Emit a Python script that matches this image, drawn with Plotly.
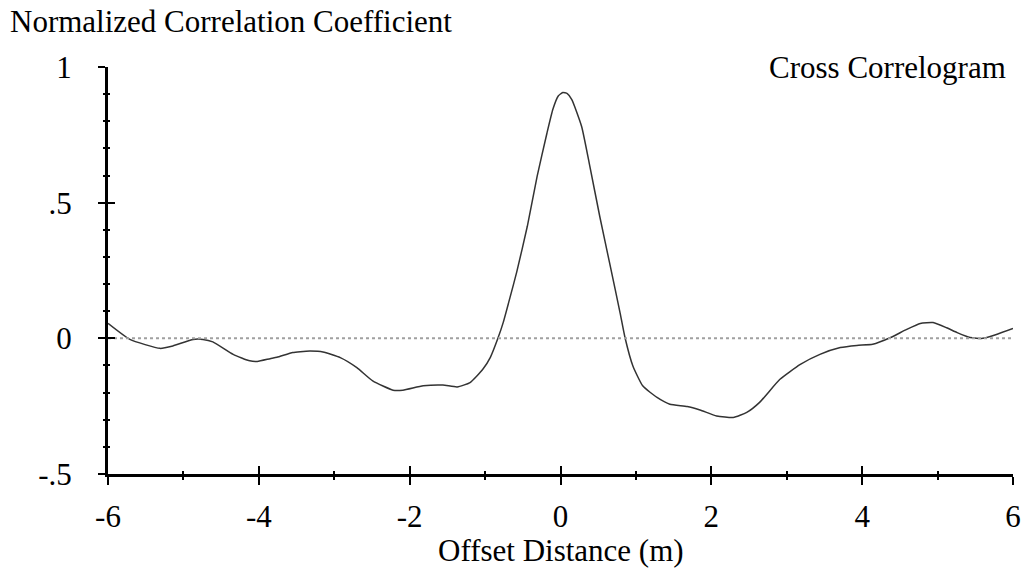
import plotly.graph_objects as go

offset_m = [-6.00, -5.71, -5.31, -5.14, -4.87, -4.74, -4.61, -4.34, -4.12, -4.02, -3.85, -3.76,
            -3.55, -3.45, -3.32, -3.15, -2.92, -2.70, -2.49, -2.22, -2.09, -1.82, -1.56, -1.37,
            -1.20, -1.03, -0.93, -0.83, -0.76, -0.67, -0.58, -0.44, -0.31, -0.18, -0.10, -0.03, 0.03,
            0.09, 0.15, 0.28, 0.39, 0.52, 0.66, 0.79, 0.855, 0.96, 1.09, 1.28, 1.45, 1.68, 1.85,
            2.07, 2.29, 2.47, 2.64, 2.91, 3.18, 3.44, 3.71, 3.93, 4.14, 4.37, 4.59, 4.77, 4.94,
            5.12, 5.26, 5.43, 5.60, 5.79, 6.00]
corr = [0.055, -0.004, -0.037, -0.028, -0.004, -0.004, -0.013, -0.059, -0.083, -0.085, -0.075, -0.070,
        -0.052, -0.049, -0.047, -0.050, -0.071, -0.108, -0.157, -0.191, -0.191, -0.175, -0.172, -0.179,
        -0.163, -0.114, -0.070, 0.000, 0.058, 0.150, 0.245, 0.413, 0.597, 0.756, 0.845, 0.893, 0.906,
        0.902, 0.880, 0.781, 0.633, 0.450, 0.266, 0.094, 0.003, -0.102, -0.175, -0.218, -0.243, -0.251, -0.264,
        -0.286, -0.292, -0.273, -0.236, -0.151, -0.096, -0.059, -0.034, -0.026, -0.022, 0.002, 0.033, 0.055, 0.058,
        0.039, 0.021, 0.003, 0.000, 0.015, 0.036]

zero_x = [-6, 6]
zero_y = [0, 0]

x_ticks = [-6, -4, -2, 0, 2, 4, 6]
x_labels = ["-6", "-4", "-2", "0", "2", "4", "6"]
y_ticks = [-0.5, 0, 0.5, 1]
y_labels = ["-.5", "0", ".5", "1"]

FONT = "Liberation Serif, Times New Roman, serif"
FS = 31

fig = go.Figure()
fig.add_trace(go.Scatter(x=zero_x, y=zero_y, mode="lines",
                         line=dict(color="#a0a0a0", width=2, dash="dot"),
                         xaxis="x2", yaxis="y2", hoverinfo="skip"))
fig.add_trace(go.Scatter(x=offset_m, y=corr, mode="lines",
                         line=dict(color="#333333", width=1.5, shape="spline", smoothing=0.5)))

common_x = dict(range=[-6, 6], tickmode="array", tickvals=x_ticks, showgrid=False, zeroline=False,
                automargin=False)
common_y = dict(range=[-0.5, 1], tickmode="array", tickvals=y_ticks, showgrid=False, zeroline=False,
                automargin=False)

fig.update_layout(
    width=1021, height=569,
    margin=dict(l=108, r=8, t=67, b=95),
    paper_bgcolor="white", plot_bgcolor="white",
    showlegend=False,
    font=dict(family=FONT, size=FS, color="black"),
    xaxis=dict(**common_x, ticktext=x_labels, ticks="outside", ticklen=8, tickwidth=2,
               tickcolor="black", showline=True, linecolor="black", linewidth=3,
               ticklabelstandoff=5,
               tickfont=dict(family=FONT, size=FS, color="black"),
               minor=dict(dtick=1, tick0=-5, ticks="outside", ticklen=3, tickwidth=2, tickcolor="black")),
    yaxis=dict(**common_y, ticktext=y_labels, ticks="outside", ticklen=7, tickwidth=2,
               tickcolor="black", showline=True, linecolor="black", linewidth=3,
               ticklabelstandoff=20,
               tickfont=dict(family=FONT, size=FS, color="black"),
               minor=dict(dtick=0.1, tick0=0, ticks="outside", ticklen=2, tickwidth=2, tickcolor="black")),
    xaxis2=dict(**common_x, overlaying="x", matches="x", showticklabels=False, ticks="inside",
                ticklen=8, tickwidth=2, tickcolor="black", showline=False, anchor="y2",
                minor=dict(dtick=1, tick0=-5, ticks="inside", ticklen=3, tickwidth=2, tickcolor="black")),
    yaxis2=dict(**common_y, overlaying="y", matches="y", showticklabels=False, ticks="inside",
                ticklen=7, tickwidth=2, tickcolor="black", showline=False, anchor="x2",
                minor=dict(dtick=0.1, tick0=0, ticks="inside", ticklen=2, tickwidth=2, tickcolor="black")),
    annotations=[
        dict(text="Normalized Correlation Coefficient", xref="paper", yref="paper",
             x=-100/905, y=1 + 45/407, xanchor="left", yanchor="middle", showarrow=False,
             font=dict(family=FONT, size=FS, color="black")),
        dict(text="Cross Correlogram", xref="paper", yref="paper",
             x=1 - 5/905, y=1, xanchor="right", yanchor="middle", showarrow=False,
             font=dict(family=FONT, size=FS, color="black")),
        dict(text="Offset Distance (m)", xref="paper", yref="paper",
             x=0.5, y=-(550 - 474) / 407, xanchor="center", yanchor="middle", showarrow=False,
             font=dict(family=FONT, size=FS, color="black")),
    ],
)

fig.write_html("out.html")
